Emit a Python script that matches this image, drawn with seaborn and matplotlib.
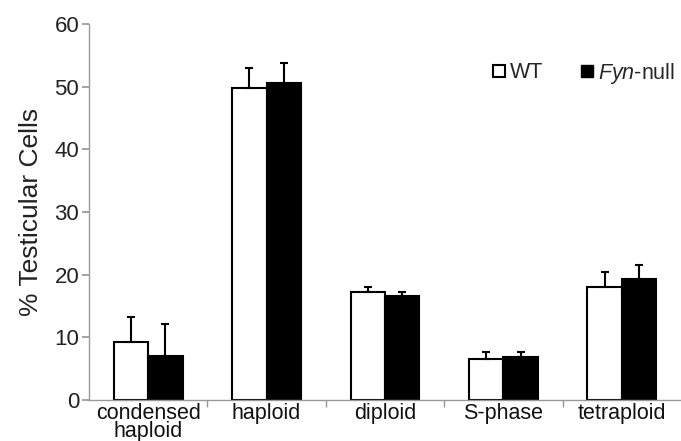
import matplotlib
matplotlib.use("Agg")
import matplotlib.pyplot as plt
from matplotlib.lines import Line2D
import seaborn as sns
import pandas as pd
import numpy as np

categories = ["condensed\nhaploid", "haploid", "diploid", "S-phase", "tetraploid"]
groups = ["WT", "Fyn-null"]
wt_mean = [9.2, 49.8, 17.2, 6.6, 18.0]
wt_err = [4.0, 3.2, 0.8, 1.1, 2.4]
fyn_mean = [7.0, 50.6, 16.6, 6.9, 19.3]
fyn_err = [5.1, 3.2, 0.6, 0.8, 2.2]

sns.set_theme(style="white")
plt.rcParams["font.family"] = ["Liberation Sans", "DejaVu Sans"]
plt.rcParams["mathtext.fontset"] = "custom"
plt.rcParams["mathtext.rm"] = "Liberation Sans"
plt.rcParams["mathtext.it"] = "Liberation Sans:italic"

df = pd.DataFrame({
    "category": categories * 2,
    "group": [groups[0]] * 5 + [groups[1]] * 5,
    "value": wt_mean + fyn_mean,
})

fig = plt.figure(figsize=(6.81, 4.41), dpi=100)
ax = fig.add_axes([89 / 681, 1 - 400 / 441, 1 - 89 / 681, (400 - 24) / 441])

sns.barplot(data=df, x="category", y="value", hue="group", order=categories,
            hue_order=groups, palette=["white", "black"], width=0.58,
            errorbar=None, edgecolor="black", linewidth=1.5, ax=ax, legend=False)

for cont, errs in zip(ax.containers, [wt_err, fyn_err]):
    for bar, e in zip(cont, errs):
        x = bar.get_x() + bar.get_width() / 2
        h = bar.get_height()
        ax.errorbar([x], [h], yerr=[[0], [e]], fmt="none", ecolor="black",
                    elinewidth=1.5, capsize=3, capthick=1.5, zorder=1)

ax.set_xlim(-0.5, 4.5)
ax.set_ylim(0, 60)
ax.set_yticks(np.arange(0, 61, 10))
ax.set_xlabel("")
ax.set_ylabel("% Testicular Cells", fontsize=19, color="#222222", labelpad=8)
for s in ["top", "right"]:
    ax.spines[s].set_visible(False)
for s in ["left", "bottom"]:
    ax.spines[s].set_color("#999999")
    ax.spines[s].set_linewidth(1.0)
ax.set_xticks(np.arange(0.5, 4, 1.0), minor=True)
ax.tick_params(axis="x", which="major", length=0, labelsize=15.5, pad=2, labelcolor="#111111")
ax.tick_params(axis="x", which="minor", length=5, color="#999999", direction="out", bottom=True)
ax.tick_params(axis="y", which="major", length=5, color="#999999", direction="out", left=True,
               labelsize=16, labelcolor="#222222", pad=2)
for lab in ax.get_xticklabels():
    lab.set_linespacing(0.85)
    lab.set_va("top")

handles = [
    Line2D([0], [0], marker="s", linestyle="none", markersize=8.5,
           markerfacecolor="white", markeredgecolor="black", markeredgewidth=1.5),
    Line2D([0], [0], marker="s", linestyle="none", markersize=8.5,
           markerfacecolor="black", markeredgecolor="black"),
]
leg = ax.legend(handles, ["WT", r"$\it{Fyn}$-null"], ncol=2, frameon=False, fontsize=15.5,
                handlelength=0.7, handletextpad=0.15, columnspacing=1.7,
                loc="center right")
leg.set_bbox_to_anchor((1.02, 1 - 73 / 441), transform=fig.transFigure)

fig.savefig("out.png", dpi=100)
